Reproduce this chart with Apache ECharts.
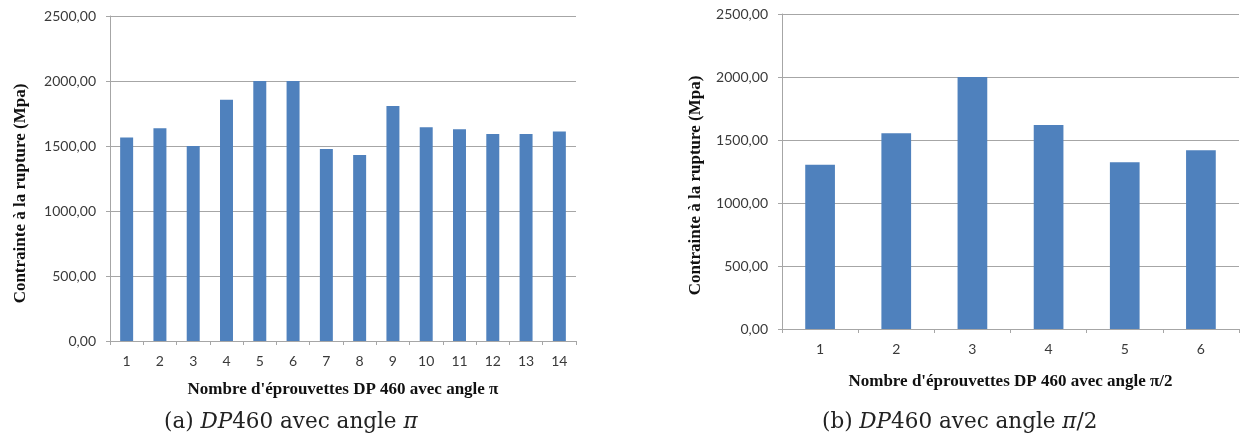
<!DOCTYPE html>
<html>
<head>
<meta charset="utf-8">
<script src="https://cdn.jsdelivr.net/npm/echarts@6/dist/echarts.min.js"></script>
<style>
  html, body { margin: 0; padding: 0; background: #fff; }
  #chart { width: 1242px; height: 448px; }
</style>
</head>
<body>
<div id="chart"></div>
<script>
// données
var categoriesPi = ['1', '2', '3', '4', '5', '6', '7', '8', '9', '10', '11', '12', '13', '14'];
var valuesPi = [1565, 1636, 1500, 1856, 2000, 2000, 1477, 1431, 1808, 1644, 1628, 1592, 1592, 1612];

var categoriesPi2 = ['1', '2', '3', '4', '5', '6'];
var valuesPi2 = [1304, 1553, 2000, 1619, 1323, 1418];

var yTicks = [0, 500, 1000, 1500, 2000, 2500];

var yName = 'Contrainte à la rupture (Mpa)';
var xNamePi = "Nombre d'éprouvettes DP 460 avec angle π";
var xNamePi2 = "Nombre d'éprouvettes DP 460 avec angle π/2";

var barColor = '#4f81bd';
var gridColor = '#a6a6a6';
var tickFont = 'Lato, "Open Sans", sans-serif';
var nameFont = '"Liberation Serif", "Times New Roman", serif';
var captionFont = '"DejaVu Serif", serif';

function fmt(v) {
    return v.toFixed(2).replace('.', ',');
}

// le titre vertical est un peu plus bas que le centre du graphique
function yAxisFor(gridIndex, gap, shift) {
    return {
        type: 'value',
        gridIndex: gridIndex,
        min: yTicks[0],
        max: yTicks[yTicks.length - 1],
        interval: yTicks[1] - yTicks[0],
        name: yName,
        nameLocation: 'middle',
        nameGap: gap,
        nameTextStyle: {
            fontFamily: nameFont, fontWeight: 'bold', fontSize: 17, color: '#111',
            padding: [0, shift * 2, 0, 0]
        },
        axisLine: { show: true, lineStyle: { color: gridColor } },
        axisTick: { show: true, length: 4, lineStyle: { color: gridColor } },
        axisLabel: { formatter: fmt, color: '#3a3a3a', fontFamily: tickFont, fontSize: 14, margin: 14 },
        splitLine: { lineStyle: { color: gridColor } }
    };
}

function xAxisFor(gridIndex, cats, name, gap) {
    return {
        type: 'category',
        gridIndex: gridIndex,
        data: cats,
        name: name,
        nameLocation: 'middle',
        nameGap: gap,
        nameTextStyle: { fontFamily: nameFont, fontWeight: 'bold', fontSize: 17, color: '#111' },
        axisLine: { lineStyle: { color: gridColor } },
        axisTick: { show: true, length: 4, lineStyle: { color: gridColor } },
        axisLabel: { color: '#3a3a3a', fontFamily: tickFont, fontSize: 14, margin: 13, interval: 0 }
    };
}

var chart = echarts.init(document.getElementById('chart'));

var option = {
    animation: false,
    backgroundColor: '#fff',
    grid: [
        { left: 110, right: 666, top: 16, bottom: 107 },
        { left: 782, right: 3, top: 14, bottom: 119 }
    ],
    xAxis: [
        xAxisFor(0, categoriesPi, xNamePi, 40),
        xAxisFor(1, categoriesPi2, xNamePi2, 44)
    ],
    yAxis: [
        yAxisFor(0, 81, 15),
        yAxisFor(1, 78, 14)
    ],
    series: [
        {
            type: 'bar',
            xAxisIndex: 0,
            yAxisIndex: 0,
            data: valuesPi,
            barWidth: '39%',
            itemStyle: { color: barColor }
        },
        {
            type: 'bar',
            xAxisIndex: 1,
            yAxisIndex: 1,
            data: valuesPi2,
            barWidth: '39%',
            itemStyle: { color: barColor }
        }
    ],
    graphic: [
        {
            type: 'text',
            left: 164,
            top: 411,
            style: {
                text: '(a) {i|DP}460 avec angle {i|π}',
                font: '21.5px ' + captionFont,
                fill: '#222',
                rich: { i: { fontStyle: 'italic', fontSize: 21.5, fontFamily: captionFont } }
            }
        },
        {
            type: 'text',
            left: 822,
            top: 411,
            style: {
                text: '(b) {i|DP}460 avec angle {i|π}/2',
                font: '21.5px ' + captionFont,
                fill: '#222',
                rich: { i: { fontStyle: 'italic', fontSize: 21.5, fontFamily: captionFont } }
            }
        }
    ]
};

chart.setOption(option);
</script>
</body>
</html>
